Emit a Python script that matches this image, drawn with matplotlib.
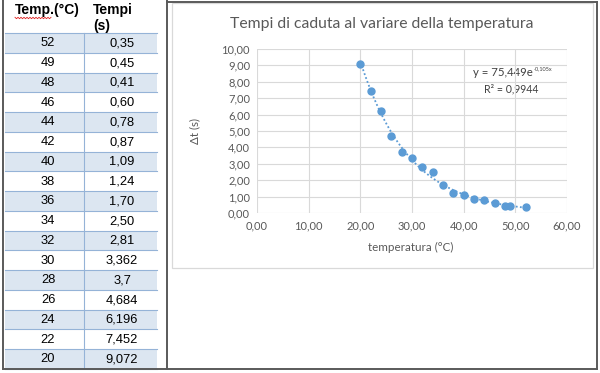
#!/usr/bin/env python3
# -*- coding: utf-8 -*-
"""Tempi di caduta al variare della temperatura: tabella + grafico stile Excel."""

import matplotlib
matplotlib.use("Agg")
import matplotlib.pyplot as plt
import numpy as np

TEMP_C = [52, 49, 48, 46, 44, 42, 40, 38, 36, 34, 32, 30, 28, 26, 24, 22, 20]
TEMPI_S = [0.35, 0.45, 0.41, 0.60, 0.78, 0.87, 1.09, 1.24, 1.70, 2.50, 2.81,
           3.362, 3.7, 4.684, 6.196, 7.452, 9.072]
TEMPI_TXT = ["0,35", "0,45", "0,41", "0,60", "0,78", "0,87", "1,09", "1,24", "1,70",
             "2,50", "2,81", "3,362", "3,7", "4,684", "6,196", "7,452", "9,072"]
# trendline esponenziale mostrata nel grafico
FIT_A = 75.449
FIT_B = -0.105
X_TICKS = [0, 10, 20, 30, 40, 50, 60]
Y_TICKS = [0, 1, 2, 3, 4, 5, 6, 7, 8, 9, 10]

W, H = 600, 373
BLUE = "#5b9bd5"
ROW_FILL = "#dce6f1"
ROW_LINE = "#95b3d7"
FRAME = "#5a5a5a"
GRID = "#d9d9d9"
TXT = "#595959"
CHART_FONT = "Lato"
TABLE_FONT = "Liberation Sans"


def fmt_it(v, nd=2):
    return f"{v:.{nd}f}".replace(".", ",")


fig = plt.figure(figsize=(W / 100, H / 100), dpi=100)
fig.patch.set_facecolor("white")

# livello di sfondo in pixel (tabella e cornici)
bg = fig.add_axes([0, 0, 1, 1])
bg.set_xlim(0, W)
bg.set_ylim(H, 0)
bg.axis("off")

# tabella
row_top = 33.0
row_h = 19.75
tx0, tx1, col_sep = 5, 157, 84
for i, (t, s) in enumerate(zip(TEMP_C, TEMPI_TXT)):
    y0 = row_top + i * row_h
    if i % 2 == 0:
        bg.add_patch(plt.Rectangle((tx0, y0), tx1 - tx0, row_h, facecolor=ROW_FILL,
                                   edgecolor="none", zorder=1))
    yc = y0 + row_h / 2 + 0.5
    bg.text(48, yc, str(t), ha="center", va="center", fontsize=9.3,
            family=TABLE_FONT, color="black", zorder=3)
    bg.text(122, yc, s, ha="center", va="center", fontsize=9.3,
            family=TABLE_FONT, color="black", zorder=3)
for i in range(len(TEMP_C) + 1):
    y = row_top + i * row_h
    bg.plot([tx0, tx1], [y, y], color=ROW_LINE, lw=0.8, zorder=2)
bg.plot([col_sep, col_sep], [row_top, H - 5], color=ROW_LINE, lw=0.8, zorder=2)

# intestazione
bg.text(15, 10, "Temp.(°C)", ha="left", va="center", fontsize=10,
        family=TABLE_FONT, fontweight="bold", zorder=3)
bg.text(93, 10, "Tempi", ha="left", va="center", fontsize=10,
        family=TABLE_FONT, fontweight="bold", zorder=3)
bg.text(93, 26, "(s)", ha="left", va="center", fontsize=10,
        family=TABLE_FONT, fontweight="bold", zorder=3)
# sottolineatura ondulata del correttore
wx = np.arange(15, 52, 1.5)
wy = 18 + np.where(np.arange(len(wx)) % 2 == 0, -0.7, 0.7)
bg.plot(wx, wy, color="#e02020", lw=0.6, zorder=3)

# cornici
bg.plot([3, 3], [0, 369], color=FRAME, lw=1.4, zorder=4)
bg.plot([167, 167], [0, 369], color=FRAME, lw=1.4, zorder=4)
bg.plot([3, 597], [369, 369], color=FRAME, lw=1.4, zorder=4)
bg.plot([597, 597], [2, 369], color=FRAME, lw=1.4, zorder=4)
bg.plot([167, 597], [2, 2], color=FRAME, lw=1.4, zorder=4)
bg.add_patch(plt.Rectangle((172, 3), 593 - 172, 268 - 3, facecolor="none",
                           edgecolor=GRID, lw=0.9, zorder=2))

# titolo e testi del grafico
bg.text(382, 24, "Tempi di caduta al variare della temperatura", ha="center",
        va="center", fontsize=11.3, family=CHART_FONT, color=TXT)
bg.text(411, 247, "temperatura (°C)", ha="center", va="center", fontsize=8.4,
        family=CHART_FONT, color=TXT)
bg.text(195, 131, "Δt (s)", ha="center", va="center", fontsize=8.4,
        family=CHART_FONT, color=TXT, rotation=90)
bg.text(533, 73, "y = " + fmt_it(FIT_A, 3) + "e", ha="right", va="center",
        fontsize=8.2, family=CHART_FONT, color="#404040")
bg.text(534, 69, fmt_it(FIT_B, 3) + "x", ha="left", va="center",
        fontsize=4.0, family=CHART_FONT, color="#404040")
bg.text(511, 89, "R² = 0,9944", ha="center", va="center", fontsize=7.6,
        family=CHART_FONT, color="#404040")

# area del grafico
px0, px1, py_top, py_bot = 257, 567, 49, 213
ax = fig.add_axes([px0 / W, 1 - py_bot / H, (px1 - px0) / W, (py_bot - py_top) / H])
ax.patch.set_alpha(0)
ax.set_xlim(X_TICKS[0], X_TICKS[-1])
ax.set_ylim(Y_TICKS[0], Y_TICKS[-1])
ax.set_xticks(X_TICKS)
ax.set_yticks(Y_TICKS)
ax.set_xticklabels([fmt_it(v) for v in X_TICKS], fontsize=8, family=CHART_FONT, color=TXT)
ax.set_yticklabels([fmt_it(v) for v in Y_TICKS], fontsize=8, family=CHART_FONT, color=TXT)
ax.tick_params(length=0, pad=5)
ax.grid(True, color=GRID, lw=0.8)
ax.set_axisbelow(True)
for sp in ax.spines.values():
    sp.set_visible(False)

xs = np.linspace(min(TEMP_C), max(TEMP_C), 200)
ax.plot(xs, FIT_A * np.exp(FIT_B * xs), color=BLUE, lw=1.3, ls=(0, (1, 1.3)),
        zorder=2, clip_on=False)
ax.plot(TEMP_C, TEMPI_S, "o", color=BLUE, ms=5, mec=BLUE, zorder=3, clip_on=False)

fig.savefig("out.png", dpi=100)
